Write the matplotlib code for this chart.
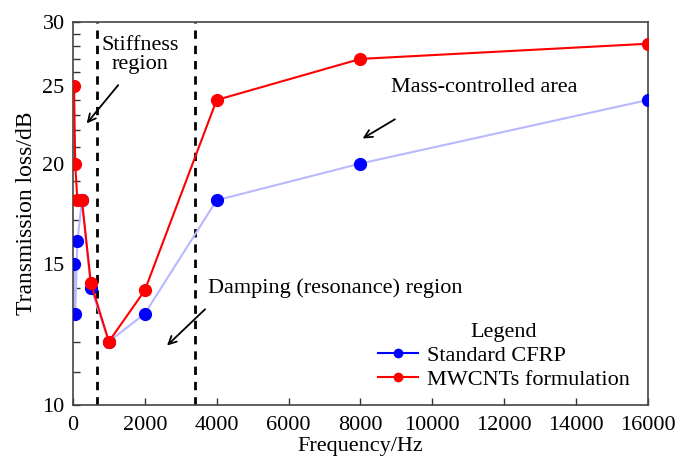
#!/usr/bin/python3
import numpy as np
import matplotlib
matplotlib.use("Agg")
import matplotlib.pyplot as plt
from matplotlib.lines import Line2D
from matplotlib.ticker import FixedLocator, NullFormatter, FixedFormatter

plt.rcParams['font.family'] = ['Liberation Serif', 'DejaVu Serif']

# data
freq = [31.5, 63, 125, 250, 500, 1000, 2000, 4000, 8000, 16000]
cfrp = [15, 13, 16, 18, 14, 12, 13, 18, 20, 24]
mwcnt = [25, 20, 18, 18, 14.2, 12, 13.9, 24, 27, 28.2]
region_bounds = [680, 3400]
yticks = [10, 15, 20, 25, 30]
xticks = [0, 2000, 4000, 6000, 8000, 10000, 12000, 14000, 16000]

fig = plt.figure(figsize=(6.75, 4.62), dpi=100)
ax = fig.add_axes([0.108, 0.123, 0.852, 0.829])

fs = 16
ax.plot(freq, cfrp, color='#b8b8ff', lw=1.5, zorder=2)
ax.plot(freq, cfrp, 'o', color='#0000ff', ms=8.5, zorder=3)
ax.plot(freq, mwcnt, '-o', color='#ff0000', lw=1.5, ms=8.5, zorder=4)

for xb in region_bounds:
    ax.axvline(xb, color='black', ls=(0, (3, 2.5)), lw=2, zorder=1)

ax.set_yscale('log')
ax.set_xlim(0, 16000)
ax.set_ylim(10, 30)
ax.yaxis.set_major_locator(FixedLocator(yticks))
ax.yaxis.set_major_formatter(FixedFormatter([str(t) for t in yticks]))
ax.yaxis.set_minor_locator(FixedLocator([v for v in range(11, 30) if v not in yticks]))
ax.yaxis.set_minor_formatter(NullFormatter())
ax.set_xticks(xticks)
ax.set_xticklabels([str(t) for t in xticks])

ax.tick_params(axis='both', which='both', direction='in', labelsize=fs,
               color='#333333', top=False, right=False)
ax.tick_params(which='major', length=5, width=1)
ax.tick_params(which='minor', length=5, width=1)
ax.tick_params(axis='x', pad=8)
ax.tick_params(axis='y', pad=6)
for s in ax.spines.values():
    s.set_color('#444444')
    s.set_linewidth(1.2)

ax.set_xlabel('Frequency/Hz', fontsize=fs, labelpad=1)
ax.set_ylabel('Transmission loss/dB', fontsize=17, labelpad=4)

arrow = dict(arrowstyle='->', color='black', lw=1.3, mutation_scale=14)
ax.text(1866, 27.3, 'Stiffness\nregion', fontsize=fs, ha='center', va='center',
        linespacing=1.0)
ax.annotate('', xy=(334, 22.3), xytext=(1309, 25.2), arrowprops=arrow)
ax.text(11450, 24.9, 'Mass-controlled area', fontsize=fs, ha='center', va='center')
ax.annotate('', xy=(7994, 21.4), xytext=(9025, 22.8), arrowprops=arrow)
ax.text(3750, 14.0, 'Damping (resonance) region', fontsize=fs, ha='left', va='center')
ax.annotate('', xy=(2563, 11.8), xytext=(3733, 13.24), arrowprops=arrow)

handles = [Line2D([], [], color='#0000ff', marker='o', ms=6, lw=1.5),
           Line2D([], [], color='#ff0000', marker='o', ms=6, lw=1.5)]
leg = ax.legend(handles, ['Standard CFRP', 'MWCNTs formulation'], title='Legend',
                loc='lower right', bbox_to_anchor=(0.995, 0.0), frameon=False,
                fontsize=fs, title_fontsize=fs, handlelength=1.8,
                handletextpad=0.4, labelspacing=0.15, borderaxespad=0.3)

fig.savefig('out.png', dpi=100)
